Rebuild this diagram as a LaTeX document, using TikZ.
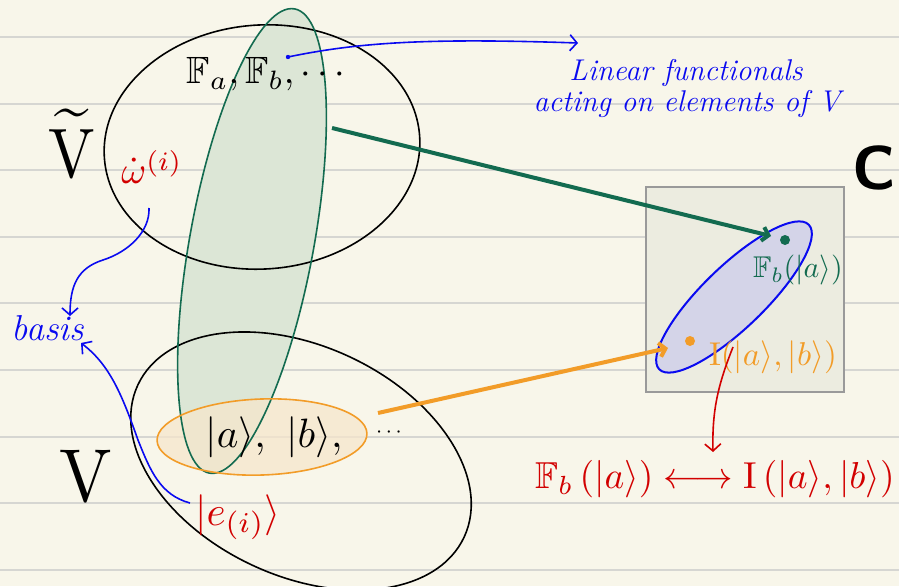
\documentclass[tikz,border=0pt]{standalone}
\usepackage{amssymb}
\usepackage{graphicx}
\usetikzlibrary{arrows.meta}
\definecolor{bg}{HTML}{F8F6EA}
\definecolor{rulec}{HTML}{D6D6D2}
\definecolor{dgreen}{HTML}{136B50}
\definecolor{gfill}{HTML}{DCE6D6}
\definecolor{orng}{HTML}{F29C28}
\definecolor{ofill}{HTML}{F6E6CC}
\definecolor{hblue}{HTML}{0A0AF0}
\definecolor{hred}{HTML}{D20000}
\definecolor{boxfill}{HTML}{ECECE0}
\definecolor{boxline}{HTML}{9A9A9A}
\definecolor{lav}{HTML}{D4D4E8}
\tikzset{
  rule/.style={rulec, line width=2pt},
  setline/.style={black, line width=1.6pt},
  barb/.style={-{Straight Barb[length=7pt,width=16pt,line width=1.6pt]}},
  thickbarb/.style={-{Straight Barb[length=6pt,width=14pt,line width=4pt]}},
  lbl/.style={inner sep=0pt, anchor=center},
}
\begin{document}
\begin{tikzpicture}[x=1pt,y=1pt]
\useasboundingbox (0,0) rectangle (899,-586);
\fill[bg] (0,0) rectangle (899,-586);
\foreach \yy in {37,104,170,237,303,370,437,503,570} \draw[rule] (0,-\yy) -- (899,-\yy);

% fills
\fill[gfill, rotate around={79.6:(252,-241)}] (252,-241) ellipse [x radius=236, y radius=62];
\fill[ofill, opacity=0.75, rotate around={2:(262,-437)}] (262,-437) ellipse [x radius=105, y radius=38];
% outlines
\draw[setline, rotate around={4:(262,-147)}] (262,-147) ellipse [x radius=158, y radius=122];
\draw[setline, rotate around={-25:(301,-461)}] (301,-461) ellipse [x radius=180, y radius=115];
\draw[dgreen, line width=1.6pt, rotate around={79.6:(252,-241)}] (252,-241) ellipse [x radius=236, y radius=62];
\draw[orng, line width=1.6pt, rotate around={2:(262,-437)}] (262,-437) ellipse [x radius=105, y radius=38];

% box C
\node[draw=boxline, fill=boxfill, line width=2pt, minimum width=198pt, minimum height=205pt, inner sep=0pt] (Cbox) at (744.5,-289) {};
\fill[lav, rotate around={44:(734,-297)}] (734,-297) ellipse [x radius=104, y radius=31];
\draw[hblue, line width=2pt, rotate around={44:(734,-297)}] (734,-297) ellipse [x radius=104, y radius=31];

% labels
\node[lbl] (Vt) at (72,-143) {\scalebox{6.2}[7]{$\widetilde{\mathrm{V}}$}};
\node[lbl] (V) at (86,-476) {\scalebox{7}[7.5]{$\mathrm{V}$}};
\node[lbl] (C) at (874,-168) {\fontsize{62}{62}\selectfont\bfseries\sffamily C};
\node[lbl] (Fab) at (266,-74) {\scalebox{3.8}{$\mathbb{F}_a,\mathbb{F}_b,\cdots$}};
\node[lbl, text=hred] (omega) at (152,-167) {\scalebox{3.8}{$\dot{\omega}^{(i)}$}};
\node[lbl] (kets) at (274,-437) {\scalebox{4.1}{$|a\rangle,\ |b\rangle,$}};
\node[lbl] (dots) at (389,-433) {\scalebox{2.2}{$\cdots$}};
\node[lbl, text=hred] (ei) at (238,-517) {\scalebox{4.1}{$|e_{(i)}\rangle$}};
\node[lbl, text=hblue] (basis) at (48,-328) {\fontsize{36}{36}\selectfont\itshape basis};
\node[lbl, text=hblue] (lin1) at (686,-73) {\fontsize{30}{30}\selectfont\itshape Linear functionals};
\node[lbl, text=hblue] (lin2) at (687,-104) {\fontsize{30}{30}\selectfont\itshape acting on elements of V};
\node[lbl, text=dgreen] (Fbl) at (798,-270) {\scalebox{3}{$\mathbb{F}_b(|a\rangle)$}};
\node[lbl, text=orng] (Il) at (773,-357) {\scalebox{3.3}{$\mathrm{I}(|a\rangle,|b\rangle)$}};
\node[lbl, text=hred] (rel) at (715,-479) {\scalebox{3.75}{$\mathbb{F}_b\,(|a\rangle)\longleftrightarrow\mathrm{I}\,(|a\rangle,|b\rangle)$}};

% points
\node[circle, fill=dgreen, inner sep=0pt, minimum size=10pt] (gdot) at (785,-240) {};
\node[circle, fill=orng, inner sep=0pt, minimum size=10pt] (odot) at (690,-341) {};
\coordinate (gstart) at (332,-128);
\coordinate (gend) at (771,-236);
\coordinate (ostart) at (378,-413);
\coordinate (oend) at (668,-348);
\coordinate (fbpt) at (288,-57);
\coordinate (linend) at (578,-43);
\coordinate (wstart) at (149,-208);
\coordinate (bastop) at (70,-316);
\coordinate (estart) at (190,-503);
\coordinate (basbot) at (81,-343);
\coordinate (istart) at (733,-347);
\coordinate (relTop) at (713,-452);

% connectors
\draw[dgreen, line width=4pt, thickbarb] (gstart) -- (gend);
\draw[orng, line width=4pt, thickbarb] (ostart) -- (oend);
\fill[hblue] (fbpt) circle (2.2pt);
\draw[hblue, line width=1.6pt, barb] (fbpt) .. controls (360,-42) and (430,-38) .. (linend);
\draw[hblue, line width=1.6pt, barb] (wstart) .. controls (150,-232) and (128,-252) .. (103,-260) .. controls (78,-268) and (70,-285) .. (bastop);
\draw[hblue, line width=1.6pt, barb] (estart) .. controls (160,-495) and (150,-470) .. (138,-440) .. controls (122,-395) and (110,-365) .. (basbot);
\draw[hred, line width=1.6pt, barb] (istart) .. controls (718,-385) and (712,-410) .. (relTop);
\end{tikzpicture}
\end{document}
